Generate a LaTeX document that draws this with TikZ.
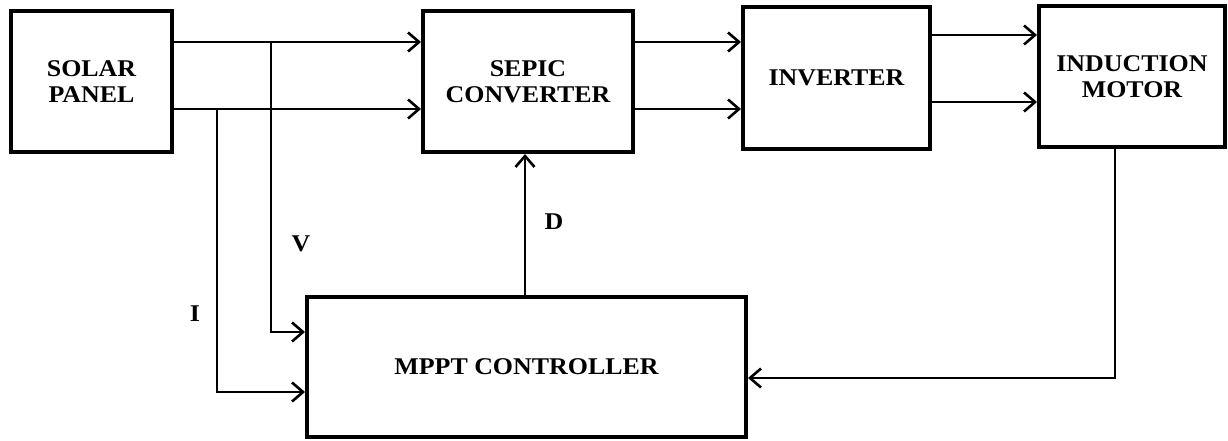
\documentclass[tikz,border=0pt]{standalone}
\usepackage{fontspec}
\setmainfont{Liberation Serif}[FakeStretch=1.08]
\usetikzlibrary{arrows.meta}
\begin{document}
\begin{tikzpicture}[x=1pt,y=-1pt,
  blk/.style={draw, line width=4pt, rectangle, align=center, inner sep=0pt,
    font=\fontsize{24}{26}\selectfont\bfseries},
  conn/.style={line width=2.6pt, line join=miter},
  arr/.style={conn, -{Straight Barb[length=11pt,width=19pt,line width=2.6pt]}},
  lbl/.style={font=\fontsize{24}{26}\selectfont\bfseries, inner sep=0pt}]
\useasboundingbox (0,0) rectangle (1228,441);
\fill[white] (0,0) rectangle (1228,441);
\node[blk, minimum width=161pt, minimum height=141pt] (solar) at (91.5,81.5) {SOLAR\\PANEL};
\node[blk, minimum width=210pt, minimum height=141pt] (sepic) at (528,81.5) {SEPIC\\CONVERTER};
\node[blk, minimum width=187pt, minimum height=142pt] (inv) at (836.5,78) {INVERTER};
\node[blk, minimum width=186pt, minimum height=141pt] (motor) at (1132,76.5) {INDUCTION\\MOTOR};
\node[blk, minimum width=439pt, minimum height=140pt] (mppt) at (526.5,367) {MPPT CONTROLLER};
\coordinate (vj) at (271,42);
\coordinate (ij) at (217,109);
% solar -> sepic
\draw[arr] (solar.east |- 0,42) -- (sepic.west |- 0,42);
\draw[arr] (solar.east |- 0,109) -- (sepic.west |- 0,109);
% V and I sensing
\draw[arr] (vj) |- (mppt.west |- 0,332);
\draw[arr] (ij) |- (mppt.west |- 0,392);
% D
\draw[arr] (mppt.north -| 525,0) -- (sepic.south -| 525,0);
% sepic -> inverter
\draw[arr] (sepic.east |- 0,42) -- (inv.west |- 0,42);
\draw[arr] (sepic.east |- 0,109) -- (inv.west |- 0,109);
% inverter -> motor
\draw[arr] (inv.east |- 0,35) -- (motor.west |- 0,35);
\draw[arr] (inv.east |- 0,102) -- (motor.west |- 0,102);
% feedback
\draw[arr] (motor.south -| 1115,0) |- (mppt.east |- 0,378);
% labels
\node[lbl] (lv) at (301,244) {V};
\node[lbl] (li) at (195,314) {I};
\node[lbl] (ld) at (554,222) {D};
\end{tikzpicture}
\end{document}
